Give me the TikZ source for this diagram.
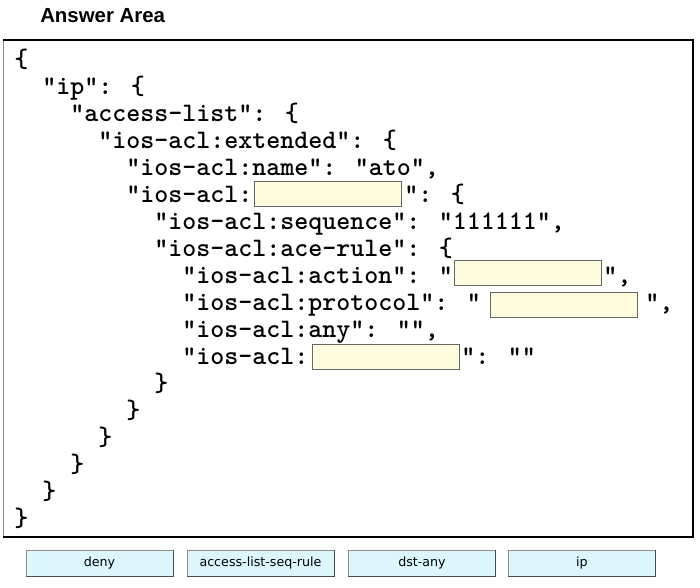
\documentclass[tikz,border=0pt]{standalone}
\usepackage{fontspec}
\usepackage{tikz}
\newfontfamily\fuentesans{Liberation Sans}
\newfontfamily\fuenteboton{DejaVu Sans}
\newcommand{\fuentecodigo}{\ttfamily\bfseries\fontsize{20}{24}\selectfont}
\definecolor{amarillo}{RGB}{255,252,222}
\definecolor{celeste}{RGB}{219,247,251}

\begin{document}
\begin{tikzpicture}[x=0.75pt,y=-0.75pt]
	\tikzstyle{codigo} = [anchor=base west, inner sep=0pt, font=\fuentecodigo, text=black]
	\tikzstyle{hueco} = [draw=black!60, fill=amarillo, minimum width=110.25pt, minimum height=18.75pt, inner sep=0pt]
	\tikzstyle{boton} = [draw=black!45, fill=celeste, minimum width=110.25pt, minimum height=19.5pt, inner sep=0pt, font=\fuenteboton\fontsize{9.5}{11}\selectfont]
	\useasboundingbox (0,0) rectangle (700,587);
	
	% Titulo
	\node[anchor=base west, inner sep=0pt, font=\fuentesans\bfseries\fontsize{15.3}{18}\selectfont] (titulo) at (40,22) {Answer Area};
	
	% Marco del area de respuesta
	\draw[black!45, line width=0.75pt] (3,537) -- (3,40);
	\draw[line width=1.5pt] (3,40) -- (693,40) -- (693,537) -- (3,537);
	
	% Lineas del JSON
	\node[codigo] (l0) at (14,67) {\{};
	\node[codigo] (l1) at (42,94) {"ip": \{};
	\node[codigo] (l2) at (70,121) {"access-list": \{};
	\node[codigo] (l3) at (98,148) {"ios-acl:extended": \{};
	\node[codigo] (l4) at (126,175) {"ios-acl:name": "ato",};
	\node[codigo] (l5) at (126,202) {"ios-acl:};
	\node[codigo] (l5b) at (404,202) {": \{};
	\node[codigo] (l6) at (154,229) {"ios-acl:sequence": "111111",};
	\node[codigo] (l7) at (154,256) {"ios-acl:ace-rule": \{};
	\node[codigo] (l8) at (182,283) {"ios-acl:action": "};
	\node[codigo] (l8b) at (603,283) {",};
	\node[codigo] (l9) at (182,310) {"ios-acl:protocol": "};
	\node[codigo] (l9b) at (645,310) {",};
	\node[codigo] (l10) at (182,337) {"ios-acl:any": "",};
	\node[codigo] (l11) at (182,364) {"ios-acl:};
	\node[codigo] (l11b) at (461,364) {": ""};
	
	% Llaves de cierre
	\foreach \i in {0,...,5}
		\node[codigo] (cierre\i) at ({154-28*\i},{391+27*\i}) {\}};
	
	% Huecos a rellenar
	\node[hueco] (hueco1) at (327.5,193.5) {};
	\node[hueco] (hueco2) at (527.5,272.5) {};
	\node[hueco] (hueco3) at (564,304.5) {};
	\node[hueco] (hueco4) at (385.5,357) {};
	
	% Opciones para arrastrar
	\node[boton] (deny) at (99.5,563) {deny};
	\node[boton] (seqrule) at (260.5,563) {access-list-seq-rule};
	\node[boton] (dstany) at (422,563) {dst-any};
	\node[boton] (botonip) at (582,563) {ip};
	\foreach \b in {deny,seqrule,dstany,botonip}
		\draw[black!70, line width=1pt] (\b.north east) -- (\b.south east) -- (\b.south west);
\end{tikzpicture}
\end{document}
